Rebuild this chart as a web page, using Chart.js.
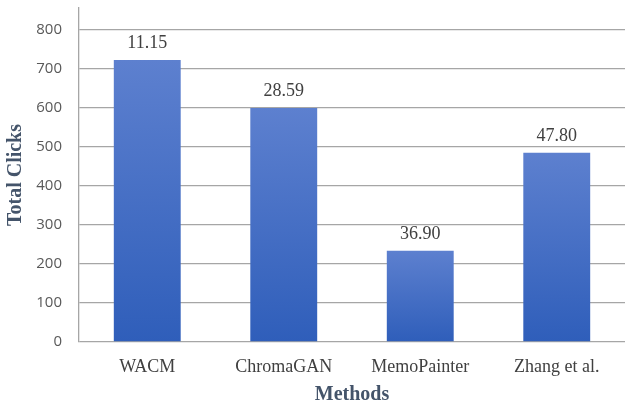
<!DOCTYPE html>
<html><head><meta charset="utf-8">
<script src="https://cdn.jsdelivr.net/npm/chart.js@4"></script>
<style>html,body{margin:0;padding:0;background:#fff}#wrap{width:625px;height:405px}</style>
</head><body><div id="wrap"><canvas id="c"></canvas></div>
<script>
const categories = ['WACM', 'ChromaGAN', 'MemoPainter', 'Zhang et al.'];
const totalClicks = [723, 600, 234, 485];
const barLabels = ['11.15', '28.59', '36.90', '47.80'];
const yTicks = [0, 100, 200, 300, 400, 500, 600, 700, 800];

const labelPlugin = {
  id: 'barLabels',
  afterDatasetsDraw(chart) {
    const ctx = chart.ctx;
    const meta = chart.getDatasetMeta(0);
    ctx.save();
    ctx.font = '18px "Liberation Serif", "Times New Roman", serif';
    ctx.fillStyle = '#404040';
    ctx.textAlign = 'center';
    ctx.textBaseline = 'alphabetic';
    meta.data.forEach((bar, i) => {
      ctx.fillText(barLabels[i], bar.x, bar.y - 12);
    });
    ctx.restore();
  }
};

new Chart(document.getElementById('c'), {
  type: 'bar',
  data: {
    labels: categories,
    datasets: [{
      data: totalClicks,
      backgroundColor(context) {
        const chart = context.chart;
        const ys = chart.scales.y;
        if (!ys || context.parsed === undefined) return '#4472c4';
        const top = ys.getPixelForValue(context.parsed.y);
        const bottom = ys.getPixelForValue(0);
        if (!isFinite(top) || !isFinite(bottom) || top === bottom) return '#4472c4';
        const g = chart.ctx.createLinearGradient(0, top, 0, bottom);
        g.addColorStop(0, '#5d80cf');
        g.addColorStop(1, '#2f5eba');
        return g;
      },
      borderWidth: 0,
      categoryPercentage: 1,
      barPercentage: 0.49
    }]
  },
  options: {
    responsive: true,
    maintainAspectRatio: false,
    animation: false,
    layout: { padding: { top: 8, right: 0, bottom: 0, left: 0 } },
    plugins: { legend: { display: false }, tooltip: { enabled: false } },
    scales: {
      x: {
        grid: { display: false },
        border: { display: false },
        ticks: {
          color: '#404040',
          padding: 6,
          font: { family: '"Liberation Serif", "Times New Roman", serif', size: 18 }
        },
        title: {
          display: true,
          text: 'Methods',
          color: '#44546A',
          padding: { top: 4, bottom: -2 },
          font: { family: '"Liberation Serif", "Times New Roman", serif', size: 20, weight: 'bold' }
        },
        afterFit(scale) { scale.height = 63; scale.paddingLeft = 0; scale.paddingRight = 0; }
      },
      y: {
        min: 0,
        max: 856,
        ticks: {
          stepSize: 100,
          color: '#595959',
          padding: 17,
          font: { family: '"Open Sans", sans-serif', size: 15 }
        },
        afterBuildTicks(scale) {
          scale.ticks = yTicks.map(v => ({ value: v }));
        },
        grid: { color: '#a6a6a6', lineWidth: 1.3, drawTicks: false },
        border: { color: '#a6a6a6', width: 1.3 },
        title: {
          display: true,
          text: 'Total Clicks',
          color: '#44546A',
          padding: { top: 4, bottom: 0 },
          font: { family: '"Liberation Serif", "Times New Roman", serif', size: 20, weight: 'bold' }
        },
        afterFit(scale) { scale.width = 79; scale.paddingTop = 0; scale.paddingBottom = 0; }
      }
    }
  },
  plugins: [labelPlugin]
});
</script></body></html>
